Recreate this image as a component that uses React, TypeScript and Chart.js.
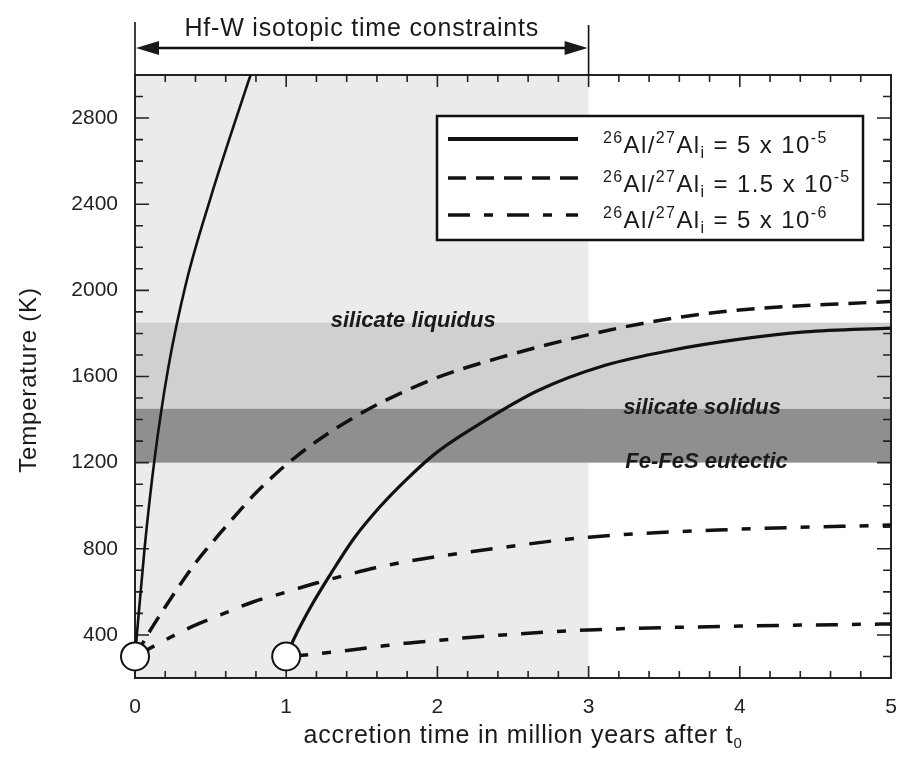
import React, { useEffect, useRef } from "react";
import { Chart, registerables } from "chart.js";
Chart.register(...registerables);

// ---------- data ----------
const xTickValues = [0, 1, 2, 3, 4, 5];
const yTickValues = [400, 800, 1200, 1600, 2000, 2400, 2800];
const xRange = [0, 5];
const yRange = [200, 3000];

// 26Al/27Al = 5e-5, accreted at t = 0
const solidEarlyX = [0, 0.063, 0.13, 0.22, 0.34, 0.5, 0.66, 0.75, 0.8];
const solidEarlyT = [300, 800, 1220, 1640, 2040, 2430, 2780, 2970, 3070];
// 26Al/27Al = 5e-5, accreted at t = 1 Myr
const solidLateX = [1.0, 1.05, 1.17, 1.3, 1.45, 1.62, 1.8, 2.0, 2.3, 2.67, 3.11, 3.55, 3.99, 4.43, 5.0];
const solidLateT = [300, 380, 540, 690, 850, 995, 1125, 1250, 1389, 1536, 1652, 1722, 1772, 1807, 1825];
// 26Al/27Al = 1.5e-5, accreted at t = 0
const dashedX = [0, 0.1, 0.2, 0.3, 0.4, 0.56, 0.69, 0.8, 0.95, 1.06, 1.24, 1.46, 1.66, 2.01, 2.45, 2.89, 3.33, 3.77, 4.21, 4.65, 5.0];
const dashedT = [300, 420, 530, 635, 734, 870, 975, 1060, 1160, 1225, 1318, 1415, 1490, 1598, 1695, 1776, 1843, 1892, 1920, 1937, 1948];
// 26Al/27Al = 5e-6, accreted at t = 0
const dashDotEarlyX = [0, 0.17, 0.38, 0.56, 0.78, 1.0, 1.2, 1.37, 1.59, 1.79, 2.01, 2.21, 3.0, 4.0, 5.0];
const dashDotEarlyT = [300, 365, 440, 492, 553, 599, 641, 673, 712, 740, 765, 785, 854, 891, 910];
// 26Al/27Al = 5e-6, accreted at t = 1 Myr
const dashDotLateX = [1.0, 1.15, 1.33, 1.61, 1.79, 2.01, 2.21, 3.0, 4.0, 5.0];
const dashDotLateT = [300, 308, 322, 346, 361, 375, 388, 423, 441, 451];
// accretion start points
const startX = [0, 1];
const startT = [300, 300];

// shaded regions
const hfwSpan = [0, 3];
const liquidusBand = [1450, 1850];
const eutecticBand = [1200, 1450];

// labels
const bandLabelText = ["silicate liquidus", "silicate solidus", "Fe-FeS eutectic"];
const bandLabelX = [1.84, 3.75, 3.78];
const bandLabelT = [1857, 1453, 1205];
const legendValues = ["5 x 10", "1.5 x 10", "5 x 10"];
const legendExponents = ["-5", "-5", "-6"];
const topLabel = "Hf-W isotopic time constraints";
const xTitle = "accretion time in million years after t";
const xTitleSub = "0";
const yTitle = "Temperature (K)";

// ---------- styles ----------
const FONT = "'Liberation Sans', Arial, Helvetica, sans-serif";
const DASH = [18, 10];
const DASHDOT = [22, 14, 9, 14];
const LINE = "#111";

const pts = (xs: number[], ys: number[]) => xs.map((v, i) => ({ x: v, y: ys[i] }));

function drawRich(ctx: CanvasRenderingContext2D, x: number, base: number, parts: { t: string; m: string }[], big: number, small: number) {
  let cx = x;
  for (const p of parts) {
    const size = p.m === "n" ? big : small;
    ctx.font = `${size}px ${FONT}`;
    const dy = p.m === "sup" ? -big * 0.4 : p.m === "sub" ? big * 0.22 : 0;
    ctx.fillText(p.t, cx, base + dy);
    cx += ctx.measureText(p.t).width;
  }
}

const decoPlugin = {
  id: "deco",
  beforeDatasetsDraw(chart: any) {
    const { ctx, chartArea: a, scales } = chart;
    const x = scales.x, y = scales.y;
    ctx.save();
    const x0 = x.getPixelForValue(hfwSpan[0]);
    const x1 = x.getPixelForValue(hfwSpan[1]);
    ctx.fillStyle = "#ebebeb";
    ctx.fillRect(x0, a.top, x1 - x0, a.bottom - a.top);
    let yA = y.getPixelForValue(liquidusBand[1]);
    let yB = y.getPixelForValue(liquidusBand[0]);
    ctx.fillStyle = "#d0d0d0";
    ctx.fillRect(a.left, yA, a.right - a.left, yB - yA);
    yA = y.getPixelForValue(eutecticBand[1]);
    yB = y.getPixelForValue(eutecticBand[0]);
    ctx.fillStyle = "#8f8f8f";
    ctx.fillRect(a.left, yA, a.right - a.left, yB - yA);

    // frame
    ctx.strokeStyle = "#222";
    ctx.lineWidth = 2;
    ctx.strokeRect(a.left, a.top, a.right - a.left, a.bottom - a.top);

    // inward ticks
    ctx.lineWidth = 1.6;
    ctx.beginPath();
    for (let i = 0; i <= 25; i++) {
      const v = xRange[0] + i * 0.2;
      const major = Math.abs(v - Math.round(v)) < 1e-6;
      const len = major ? 12 : 7;
      const px = x.getPixelForValue(v);
      ctx.moveTo(px, a.bottom); ctx.lineTo(px, a.bottom - len);
      ctx.moveTo(px, a.top); ctx.lineTo(px, a.top + len);
    }
    for (let v = yRange[0]; v <= yRange[1]; v += 100) {
      const major = v % 400 === 0;
      const len = major ? 14 : 8;
      const py = y.getPixelForValue(v);
      ctx.moveTo(a.left, py); ctx.lineTo(a.left + len, py);
      ctx.moveTo(a.right, py); ctx.lineTo(a.right - len, py);
    }
    ctx.stroke();
    ctx.restore();
  },
  afterDraw(chart: any) {
    const { ctx, chartArea: a, scales } = chart;
    const x = scales.x, y = scales.y;
    ctx.save();
    ctx.fillStyle = "#1a1a1a";
    ctx.strokeStyle = "#111";

    // band labels
    ctx.font = `italic bold 22px ${FONT}`;
    ctx.textAlign = "center";
    ctx.textBaseline = "middle";
    bandLabelText.forEach((t, i) => {
      ctx.fillText(t, x.getPixelForValue(bandLabelX[i]), y.getPixelForValue(bandLabelT[i]));
    });

    // legend
    const lx = 437, ly = 116, lw = 426, lh = 124;
    ctx.fillStyle = "#fff";
    ctx.fillRect(lx, ly, lw, lh);
    ctx.lineWidth = 2.5;
    ctx.setLineDash([]);
    ctx.strokeRect(lx, ly, lw, lh);
    const sampleY = [139, 178, 215];
    const textBase = [153, 192, 228];
    const dashes = [[], DASH, DASHDOT];
    const widths = [4, 3.5, 3.5];
    for (let i = 0; i < 3; i++) {
      ctx.setLineDash(dashes[i]);
      ctx.lineWidth = widths[i];
      ctx.beginPath();
      ctx.moveTo(448, sampleY[i]);
      ctx.lineTo(578, sampleY[i]);
      ctx.stroke();
    }
    ctx.setLineDash([]);
    ctx.fillStyle = "#1a1a1a";
    ctx.textAlign = "left";
    ctx.textBaseline = "alphabetic";
    (ctx as any).letterSpacing = "1.4px";
    for (let i = 0; i < 3; i++) {
      drawRich(ctx, 603, textBase[i], [
        { t: "26", m: "sup" }, { t: "Al/", m: "n" }, { t: "27", m: "sup" }, { t: "Al", m: "n" },
        { t: "i", m: "sub" }, { t: " = " + legendValues[i], m: "n" }, { t: legendExponents[i], m: "sup" },
      ], 24, 16);
    }

    // top arrow annotation
    const x0 = x.getPixelForValue(hfwSpan[0]);
    const x1 = x.getPixelForValue(hfwSpan[1]);
    ctx.lineWidth = 1.6;
    ctx.beginPath();
    ctx.moveTo(x0, 22); ctx.lineTo(x0, a.top);
    ctx.moveTo(x1, 25); ctx.lineTo(x1, a.top);
    ctx.stroke();
    const ay = 48;
    ctx.lineWidth = 2.5;
    ctx.beginPath();
    ctx.moveTo(x0 + 10, ay); ctx.lineTo(x1 - 10, ay);
    ctx.stroke();
    ctx.beginPath();
    ctx.moveTo(x0 + 1, ay); ctx.lineTo(x0 + 24, ay - 7); ctx.lineTo(x0 + 24, ay + 7); ctx.closePath();
    ctx.moveTo(x1 - 1, ay); ctx.lineTo(x1 - 24, ay - 7); ctx.lineTo(x1 - 24, ay + 7); ctx.closePath();
    ctx.fill();
    ctx.font = `25px ${FONT}`;
    ctx.textAlign = "center";
    ctx.letterSpacing = "0.8px";
    ctx.fillText(topLabel, (x0 + x1) / 2, 36);

    // x title
    ctx.font = `25px ${FONT}`;
    ctx.textAlign = "left";
    const w = ctx.measureText(xTitle).width;
    ctx.font = `15px ${FONT}`;
    const ws = ctx.measureText(xTitleSub).width;
    const cx = 523 - (w + ws) / 2;
    ctx.font = `25px ${FONT}`;
    ctx.fillText(xTitle, cx, 743);
    ctx.font = `15px ${FONT}`;
    ctx.fillText(xTitleSub, cx + w, 748);

    // y title
    ctx.font = `24px ${FONT}`;
    ctx.translate(29, 380);
    ctx.rotate(-Math.PI / 2);
    ctx.textAlign = "center";
    ctx.textBaseline = "middle";
    ctx.fillText(yTitle, 0, 0);
    ctx.restore();
  },
};

export default function App() {
  const ref = useRef<HTMLCanvasElement>(null);
  useEffect(() => {
    document.body.style.margin = "0";
    const line = (xs: number[], ys: number[], dash: number[], width: number) => ({
      data: pts(xs, ys),
      showLine: true,
      borderColor: LINE,
      borderWidth: width,
      borderDash: dash,
      pointRadius: 0,
      cubicInterpolationMode: "monotone",
      fill: false,
      order: 1,
    });
    const chart = new Chart(ref.current!, {
      type: "scatter",
      data: {
        datasets: [
          {
            data: pts(startX, startT),
            showLine: false,
            pointRadius: 14,
            pointHoverRadius: 14,
            pointBackgroundColor: "#fff",
            pointBorderColor: "#111",
            pointBorderWidth: 2,
            clip: false,
            order: 0,
          } as any,
          line(solidEarlyX, solidEarlyT, [], 2.6),
          line(solidLateX, solidLateT, [], 3.2),
          line(dashedX, dashedT, DASH, 3.5),
          line(dashDotEarlyX, dashDotEarlyT, DASHDOT, 3.5),
          line(dashDotLateX, dashDotLateT, DASHDOT, 3.5),
        ],
      },
      options: {
        responsive: false,
        animation: false,
        devicePixelRatio: 1,
        layout: { padding: { top: 75, right: 15, left: 0, bottom: 0 } },
        plugins: { legend: { display: false }, tooltip: { enabled: false } },
        events: [],
        scales: {
          x: {
            type: "linear",
            min: xRange[0],
            max: xRange[1],
            grid: { display: false, drawTicks: false },
            border: { display: false },
            afterBuildTicks: (s: any) => { s.ticks = xTickValues.map((v) => ({ value: v })); },
            afterFit: (s: any) => { s.height = 83; s.paddingLeft = 0; s.paddingRight = 0; },
            ticks: { padding: 17, color: "#222", font: { size: 21, family: FONT }, autoSkip: false, maxRotation: 0, callback: (v: any) => String(v) },
          },
          y: {
            type: "linear",
            min: yRange[0],
            max: yRange[1],
            grid: { display: false, drawTicks: false },
            border: { display: false },
            afterBuildTicks: (s: any) => { s.ticks = yTickValues.map((v) => ({ value: v })); },
            afterFit: (s: any) => { s.width = 135; s.paddingTop = 0; s.paddingBottom = 0; },
            ticks: { padding: 17, color: "#222", font: { size: 21, family: FONT }, autoSkip: false, callback: (v: any) => String(v) },
          },
        },
      } as any,
      plugins: [decoPlugin],
    });
    return () => chart.destroy();
  }, []);
  return <canvas ref={ref} width={907} height={761} style={{ display: "block" }} />;
}
